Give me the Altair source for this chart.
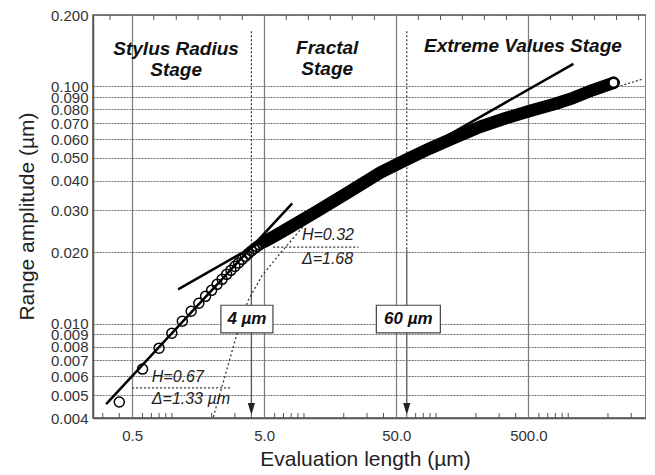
import altair as alt
import pandas as pd

# ---------------- data ----------------
# sparse, individually visible measurements (evaluation length, range amplitude)
length_um = [0.4, 0.6, 0.8, 1.0, 1.2, 1.4, 1.6, 1.8, 2.0, 2.2, 2.4, 2.6, 2.8,
             3.0, 3.2, 3.4, 3.6, 3.8, 4.0, 4.2, 4.4, 4.6, 4.8, 5.0, 5.2, 5.4,
             5.6, 5.8, 6.0]
range_um = [0.00467, 0.00643, 0.00788, 0.00911, 0.01023, 0.01127, 0.01218,
            0.01303, 0.01381, 0.01464, 0.01537, 0.01613, 0.01677, 0.01743,
            0.01803, 0.01866, 0.01920, 0.01977, 0.02025, 0.02069, 0.02111,
            0.02148, 0.02182, 0.02214, 0.02240, 0.02266, 0.02293, 0.02317,
            0.02342]

# dense part of the measurement (overlapping circles form a black band)
band_length_um = [5.0, 6.0, 7.87, 12.6, 22.4, 37.8, 58.5, 90.5, 140, 216, 335,
                  518, 801, 1096, 1553, 2203]
band_range_um = [0.02214, 0.02342, 0.02555, 0.02983, 0.0362, 0.04331, 0.04889,
                 0.05489, 0.06107, 0.06761, 0.07341, 0.07893, 0.08447, 0.08951,
                 0.09674, 0.1035]

# fitted power-law lines (H=0.67 and H=0.32)
fit_x_start = [0.318, 1.115]
fit_x_end = [8.15, 1096]
fit_y_start = [0.00458, 0.01395]
fit_y_end = [0.0321, 0.1245]

# dotted transition curve
curve_length_um = [2.06, 2.40, 2.76, 3.12, 3.78, 4.83, 6.61, 9.86]
curve_range_um = [0.00404, 0.00546, 0.00715, 0.00912, 0.01254, 0.01597,
                  0.01977, 0.02567]

# dotted helper segments
dot_x0 = [0.5, 5.85, 2488, 4.0, 60.0]
dot_x1 = [2.76, 25.8, 3715, 4.0, 60.0]
dot_y0 = [0.00536, 0.0210, 0.1006, 0.171, 0.171]
dot_y1 = [0.00536, 0.0210, 0.1076, 0.0203, 0.0205]

# arrows to the x axis (4 µm and 60 µm)
arrow_x = [4.0, 60.0]
arrow_top = [0.0203, 0.0205]
arrow_bottom = [0.0046, 0.0046]
arrow_head_y = [0.00436, 0.00436]

# label boxes
box_text = ["4 µm", "60 µm"]
box_x0 = [2.35, 35.3]
box_x1 = [5.82, 107.7]
box_y0 = [0.00914, 0.00914]
box_y1 = [0.01195, 0.01195]
box_text_x = [3.70, 61.6]
box_text_y = [0.0100, 0.0100]

# stage titles
stage_text = ["Stylus Radius", "Stage", "Fractal", "Stage", "Extreme Values Stage"]
stage_x = [1.077, 1.077, 15.0, 15.0, 454]
stage_y = [0.1358, 0.1108, 0.1371, 0.1118, 0.1397]

# parameter annotations
note_text = ["H=0.67", "Δ=1.33 µm", "H=0.32", "Δ=1.68"]
note_x = [0.705, 0.705, 9.65, 9.65]
note_y = [0.00569, 0.00457, 0.02243, 0.01790]

# axes
x_ticks = [0.5, 5, 50, 500]
y_ticks = [0.004, 0.005, 0.006, 0.007, 0.008, 0.009, 0.010,
           0.020, 0.030, 0.040, 0.050, 0.060, 0.070, 0.080, 0.090, 0.100, 0.200]
x_minor = [0.3, 0.4, 0.6, 0.7, 0.8, 0.9, 1, 2, 3, 4, 6, 7, 8, 9, 10, 20, 30, 40,
           60, 70, 80, 90, 100, 200, 300, 400, 600, 700, 800, 900, 1000, 2000, 3000]
x_top_ticks = [0.34, 0.73, 1.08, 1.58, 2.32, 3.41, 7.34, 10.8, 15.8, 23.2, 34.1,
               73.4, 108, 158, 232, 341, 734, 1077, 1581, 2321, 3407]

# ---------------- chart ----------------
FONT = "Liberation Sans"
W, H = 553, 403
INK = "#111"

xs = alt.Scale(type="log", domain=[0.253, 3880], nice=False)
ys = alt.Scale(type="log", domain=[0.004, 0.2], nice=False)

xaxis = alt.Axis(values=x_ticks, format=".1f", title="Evaluation length (µm)",
                 grid=True, gridColor="#808080", gridWidth=1.3, ticks=False,
                 labelPadding=10, labelFontSize=15, labelFont=FONT,
                 labelColor="#333", labelFlush=False, labelOverlap=False,
                 titleFont=FONT, titleFontSize=21, titleFontWeight="normal",
                 titleColor="#222", titleX=272, titleY=47,
                 titleBaseline="alphabetic", titleAlign="center",
                 domainColor="#555", domainWidth=1.5)
yaxis = alt.Axis(values=y_ticks, format=".3f", title="Range amplitude (µm)",
                 grid=True, gridColor="#707070", gridWidth=1.2, gridDash=[2, 1],
                 ticks=False, labelPadding=5, labelFontSize=15, labelFont=FONT,
                 labelColor="#333", labelFlush=False, labelOverlap=False,
                 titleFont=FONT, titleFontSize=21, titleFontWeight="normal",
                 titleColor="#222", titleX=-60, titleY=201,
                 titleBaseline="alphabetic", titleAlign="center",
                 domainColor="#555", domainWidth=1.5)


def X(f="x"):
    return alt.X(f"{f}:Q", scale=xs, axis=xaxis)


def Y(f="y"):
    return alt.Y(f"{f}:Q", scale=ys, axis=yaxis)


pts = pd.DataFrame({"x": length_um, "y": range_um})
band = pd.DataFrame({"x": band_length_um, "y": band_range_um})
last = band.tail(1)
fits = pd.DataFrame({"x": fit_x_start, "x2": fit_x_end, "y": fit_y_start, "y2": fit_y_end})
curve = pd.DataFrame({"x": curve_length_um, "y": curve_range_um})
dots = pd.DataFrame({"x": dot_x0, "x2": dot_x1, "y": dot_y0, "y2": dot_y1})
arrows = pd.DataFrame({"x": arrow_x, "y": arrow_top, "y2": arrow_bottom})
heads = pd.DataFrame({"x": arrow_x, "y": arrow_head_y})
boxes = pd.DataFrame({"x": box_x0, "x2": box_x1, "y": box_y0, "y2": box_y1})
box_lbl = pd.DataFrame({"x": box_text_x, "y": box_text_y, "t": box_text})
stages = pd.DataFrame({"x": stage_x, "y": stage_y, "t": stage_text})
notes = pd.DataFrame({"x": note_x, "y": note_y, "t": note_text})
minor = pd.DataFrame({"x": x_minor})
top_t = pd.DataFrame({"x": x_top_ticks})

dotted = alt.Chart(dots).mark_rule(color="#333", strokeWidth=1.2, strokeDash=[2, 2]).encode(
    x=X(), x2="x2:Q", y=Y(), y2="y2:Q")
curve_l = alt.Chart(curve).mark_line(color="#333", strokeWidth=1.3, strokeDash=[2, 2.5]).encode(
    x=X(), y=Y())
arrow_l = alt.Chart(arrows).mark_rule(color="#555", strokeWidth=1.3).encode(
    x=X(), y=Y(), y2="y2:Q")
fit_l = alt.Chart(fits).mark_rule(color="#000", strokeWidth=2.5).encode(
    x=X(), x2="x2:Q", y=Y(), y2="y2:Q")
band_l = alt.Chart(band).mark_line(color="#000", strokeWidth=12.5, strokeCap="round",
                                   strokeJoin="round").encode(x=X(), y=Y())
circ = alt.Chart(pts).mark_point(shape="circle", filled=False, color="#000", size=100,
                                 strokeWidth=1.5, opacity=1).encode(x=X(), y=Y())
last_c = alt.Chart(last).mark_point(shape="circle", filled=True, fill="white", stroke="#000",
                                    size=100, strokeWidth=2.5, opacity=1).encode(x=X(), y=Y())
box_r = alt.Chart(boxes).mark_rect(fill="white", stroke="#444", strokeWidth=1.2).encode(
    x=X(), x2="x2:Q", y=Y(), y2="y2:Q")
box_t = alt.Chart(box_lbl).mark_text(font=FONT, fontSize=17, fontWeight="bold",
                                     fontStyle="italic", color=INK, align="center",
                                     baseline="alphabetic").encode(x=X(), y=Y(), text="t:N")
head_m = alt.Chart(heads).mark_point(shape="M-0.6,-1L0.6,-1L0,1Z", filled=True,
                                     color="#222", size=144, opacity=1).encode(x=X(), y=Y())
stage_t = alt.Chart(stages).mark_text(font=FONT, fontSize=19, fontWeight="bold",
                                      fontStyle="italic", color=INK, align="center",
                                      baseline="alphabetic").encode(x=X(), y=Y(), text="t:N")
note_t = alt.Chart(notes).mark_text(font=FONT, fontSize=16, fontStyle="italic",
                                    color="#222", align="left",
                                    baseline="alphabetic").encode(x=X(), y=Y(), text="t:N")
minor_b = alt.Chart(minor).mark_rule(color="#555", strokeWidth=1).encode(
    x=X(), y=alt.value(H), y2=alt.value(H - 5))
minor_t = alt.Chart(top_t).mark_rule(color="#555", strokeWidth=1).encode(
    x=X(), y=alt.value(0), y2=alt.value(5))

chart = alt.layer(
    dotted, curve_l, arrow_l, fit_l, band_l, circ, last_c,
    box_r, box_t, head_m, stage_t, note_t, minor_b, minor_t
).properties(
    width=W, height=H,
    padding={"left": 85, "top": 7, "right": 0, "bottom": 52},
    autosize=alt.AutoSizeParams(type="none"),
).configure_view(stroke="#555", strokeWidth=1.5)

chart.save("out.html", embed_options={"renderer": "svg", "actions": False})
